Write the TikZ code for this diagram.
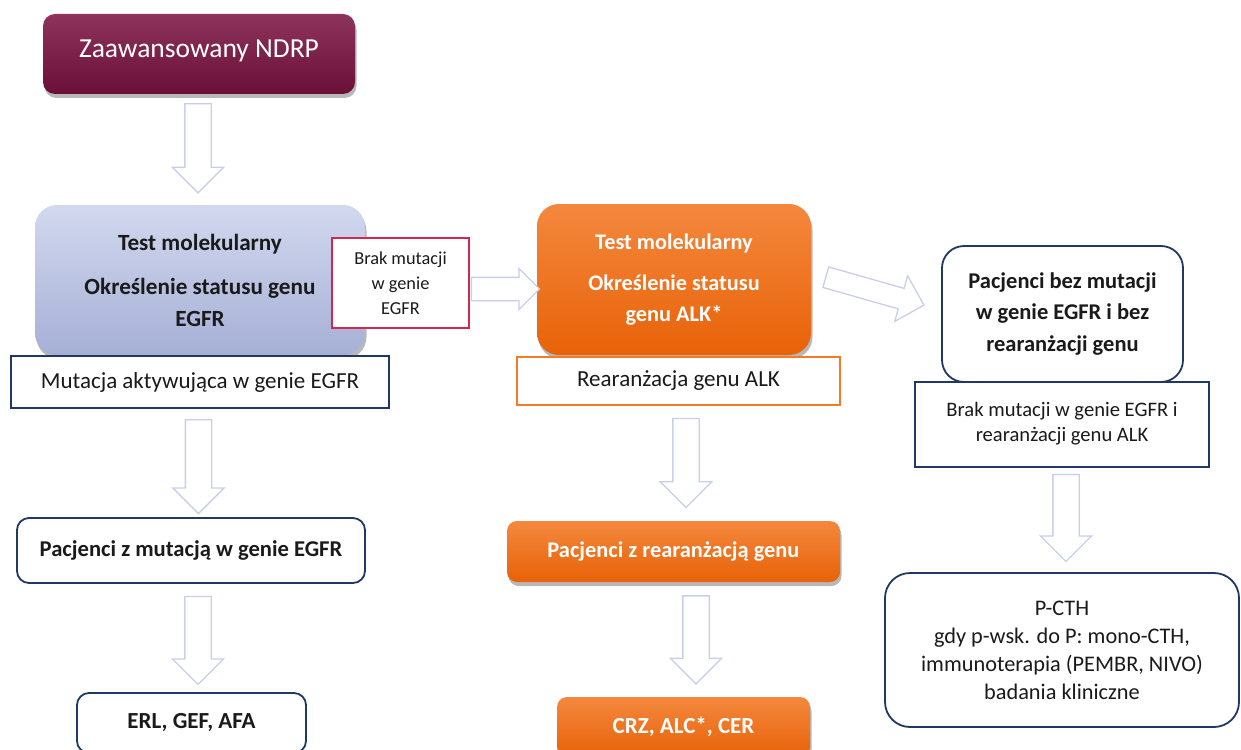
\documentclass[tikz,border=0pt]{standalone}
\usepackage{fontspec}
\setmainfont{Carlito}
\usetikzlibrary{shapes.arrows, positioning, calc, shadows}

\definecolor{ndrpTop}{RGB}{142,52,92}
\definecolor{ndrpBot}{RGB}{106,16,56}
\definecolor{egfrTop}{RGB}{210,216,238}
\definecolor{egfrBot}{RGB}{166,176,214}
\definecolor{alkTop}{RGB}{244,136,62}
\definecolor{alkBot}{RGB}{232,98,8}
\definecolor{navy}{RGB}{31,56,100}
\definecolor{crimson}{RGB}{214,38,80}
\definecolor{orangeline}{RGB}{242,122,40}
\definecolor{arrowblue}{RGB}{200,207,232}
\definecolor{txt}{RGB}{26,26,26}

\begin{document}
\begin{tikzpicture}[
    x=1pt, y=1pt,
    txtbig/.style={font=\fontsize{23}{28}\selectfont},
    outlined/.style={rectangle, draw=navy, line width=1.8pt, fill=white, align=center, text=txt, inner sep=2pt, txtbig},
    roundbox/.style={outlined, rounded corners=12pt},
    shaded/.style={rectangle, align=center, inner sep=2pt, font=\fontsize{22.5}{28}\selectfont\bfseries,
        drop shadow={shadow xshift=1.5pt, shadow yshift=-4pt, fill=black, opacity=0.28}},
    orangebox/.style={shaded, top color=alkTop, bottom color=alkBot, text=white},
    blockarr/.style={single arrow, draw=arrowblue, line width=1.3pt, fill=white, inner xsep=0pt,
        inner ysep=12.5pt, single arrow head extend=12.5pt, minimum width=0pt, single arrow tip angle=90,
        anchor=tail},
]
\useasboundingbox (0,0) rectangle (1241,-749);

% Left column
\node[shaded, top color=ndrpTop, bottom color=ndrpBot, text=white, rounded corners=12pt,
    minimum width=312pt, minimum height=80pt, font=\fontsize{27.5}{32}\selectfont] (ndrp) at (199,-54)
    {\raisebox{10pt}{Zaawansowany NDRP}};
\node[shaded, top color=egfrTop, bottom color=egfrBot, text=txt, rounded corners=22pt,
    minimum width=330pt, minimum height=150pt, font=\fontsize{23.2}{32}\selectfont\bfseries] (egfr) at (200,-280)
    {Test molekularny\\[12pt]Określenie statusu genu\\EGFR};
\node[outlined, draw=crimson, minimum width=137pt, minimum height=90pt,
    font=\fontsize{18.3}{25}\selectfont] (brak1) at (400.5,-283) {Brak mutacji\\w genie\\EGFR};
\node[outlined, minimum width=378pt, minimum height=52pt, below=0pt of egfr] (mut)
    {Mutacja aktywująca w genie EGFR};
\node[roundbox, font=\fontsize{22.6}{28}\selectfont\bfseries, minimum width=348pt, minimum height=65pt] (pacz) at (191,-550.5)
    {Pacjenci z mutacją w genie EGFR};
\node[roundbox, font=\fontsize{23}{28}\selectfont\bfseries, minimum width=229pt, minimum height=60pt] (erl) at (191.5,-723)
    {ERL, GEF, AFA};

% Middle column
\node[orangebox, rounded corners=22pt, minimum width=274pt, minimum height=151pt,
    font=\fontsize{22.3}{31}\selectfont\bfseries] (alk) at (674,-279.5)
    {Test molekularny\\[10pt]Określenie statusu\\genu ALK*};
\node[outlined, draw=orangeline, line width=1.6pt, minimum width=323pt, minimum height=48pt] (rear) at (678.5,-381)
    {Rearanżacja genu ALK};
\node[orangebox, rounded corners=10pt, minimum width=333pt, minimum height=61pt,
    font=\fontsize{22.4}{28}\selectfont\bfseries] (pacrear) at (673.5,-551.5) {Pacjenci z rearanżacją genu};
\node[orangebox, rounded corners=10pt, minimum width=253pt, minimum height=60pt,
    font=\fontsize{23}{28}\selectfont\bfseries] (crz) at (683.5,-727) {CRZ, ALC*, CER};

% Right column
\node[roundbox, rounded corners=22pt, minimum width=241pt, minimum height=136pt,
    font=\fontsize{22.5}{31.5}\selectfont\bfseries] (bez) at (1062.5,-314)
    {Pacjenci bez mutacji\\w genie EGFR i bez\\rearanżacji genu};
\node[outlined, minimum width=294pt, minimum height=85pt, font=\fontsize{20.6}{25}\selectfont] (brak2) at (1062,-424.5)
    {\raisebox{5pt}{Brak mutacji w genie EGFR i}\\\raisebox{5pt}{rearanżacji genu ALK}};
\node[roundbox, rounded corners=25pt, minimum width=354pt, minimum height=154pt,
    font=\fontsize{22.3}{28}\selectfont] (pcth) at (1062,-650)
    {P-CTH\\gdy p-wsk. do P: mono-CTH,\\immunoterapia (PEMBR, NIVO)\\badania kliniczne};

% Block arrows
\node[blockarr, rotate=-90, minimum height=89pt] (a1) at ($(ndrp.south)+(-1,-9)$) {};
\node[blockarr, rotate=-90, minimum height=94pt] (a2) at ($(mut.south)+(-1.5,-10)$) {};
\node[blockarr, rotate=-90, minimum height=88pt] (a3) at ($(pacz.south)+(7,-12)$) {};
\node[blockarr, rotate=-90, minimum height=89pt] (a4) at ($(rear.south)+(7.5,-12)$) {};
\node[blockarr, rotate=-90, minimum height=88pt] (a5) at ($(pacrear.south)+(22.5,-13)$) {};
\node[blockarr, rotate=-90, minimum height=87pt] (a6) at ($(brak2.south)+(4,-6)$) {};
\node[blockarr, inner ysep=11pt, single arrow head extend=9pt, minimum height=68pt] (a7)
    at ($(brak1.east)+(1,-6)$) {};
\node[blockarr, rotate=-15.9, inner ysep=10pt, single arrow head extend=13pt, minimum height=102pt] (a8)
    at ($(alk.east)+(14,2.5)$) {};

\end{tikzpicture}
\end{document}
